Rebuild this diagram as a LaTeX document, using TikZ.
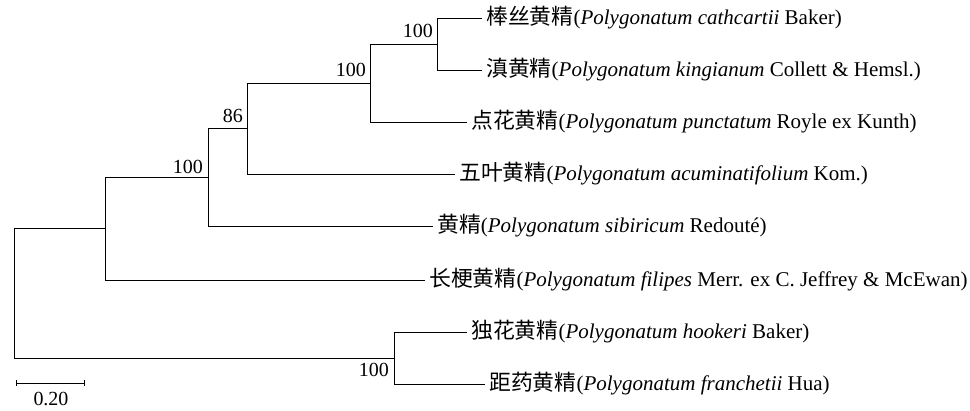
\documentclass[tikz,border=0pt]{standalone}
\usepackage{fontspec}
\setmainfont{Liberation Serif}
\newfontfamily\cjk[Scale=1.04]{Noto Sans CJK SC}
\begin{document}
\begin{tikzpicture}[x=1pt,y=-1pt,
  branch/.style={line width=0.9pt, black},
  leaf/.style={anchor=west, inner xsep=4pt, inner ysep=0pt, font=\fontsize{21}{25}\selectfont},
  boot/.style={inner sep=0pt, font=\fontsize{20}{24}\selectfont},
  bar/.style={line width=0.9pt, black}]
\useasboundingbox (0,0) rectangle (970,411);
% internal nodes
\coordinate (root) at (14,293.3);
\coordinate (A) at (105,228.6);
\coordinate (B) at (208,177.3);
\coordinate (C) at (247,128.5);
\coordinate (D) at (370,83);
\coordinate (E) at (437,44);
\coordinate (F) at (394,358);
% leaves
\node[leaf] (l1) at (482,18) {{\cjk 棒丝黄精}(\textit{Polygonatum cathcartii} Baker)};
\node[leaf] (l2) at (482,70) {{\cjk 滇黄精}(\textit{Polygonatum kingianum} Collett \& Hemsl.)};
\node[leaf] (l3) at (467,122) {{\cjk 点花黄精}(\textit{Polygonatum punctatum} Royle ex Kunth)};
\node[leaf] (l4) at (455,174) {{\cjk 五叶黄精}(\textit{Polygonatum acuminatifolium} Kom.)};
\node[leaf] (l5) at (433,226) {{\cjk 黄精}(\textit{Polygonatum sibiricum} Redouté)};
\node[leaf] (l6) at (425,280) {{\cjk 长梗黄精}(\textit{Polygonatum filipes} Merr. ex C. Jeffrey \& McEwan)};
\node[leaf] (l7) at (467,332) {{\cjk 独花黄精}(\textit{Polygonatum hookeri} Baker)};
\node[leaf] (l8) at (485,384) {{\cjk 距药黄精}(\textit{Polygonatum franchetii} Hua)};
% branches
\draw[branch] (E) |- (l1.west);
\draw[branch] (E) |- (l2.west);
\draw[branch] (D) |- (E);
\draw[branch] (D) |- (l3.west);
\draw[branch] (C) |- (D);
\draw[branch] (C) |- (l4.west);
\draw[branch] (B) |- (C);
\draw[branch] (B) |- (l5.west);
\draw[branch] (A) |- (B);
\draw[branch] (A) |- (l6.west);
\draw[branch] (F) |- (l7.west);
\draw[branch] (F) |- (l8.west);
\draw[branch] (root) |- (A);
\draw[branch] (root) |- (F);
% bootstrap values
\node[boot, anchor=base east] (bE) at ([xshift=-4pt,yshift=6pt]E) {100};
\node[boot, anchor=base east] (bD) at ([xshift=-4pt,yshift=6pt]D) {100};
\node[boot, anchor=base east] (bC) at ([xshift=-4pt,yshift=6pt]C) {86};
\node[boot, anchor=base east] (bB) at ([xshift=-5pt,yshift=4pt]B) {100};
\node[boot, anchor=north east] (bF) at ([xshift=-5pt,yshift=-5pt]F) {100};
% scale bar
\coordinate (s1) at (16,383);
\coordinate (s2) at (84,383);
\draw[bar] (s1) -- (s2);
\draw[bar] ([yshift=-3pt]s1) -- ([yshift=3pt]s1);
\draw[bar] ([yshift=-3pt]s2) -- ([yshift=3pt]s2);
\node[boot, anchor=north] (sl) at (51,392) {0.20};
\end{tikzpicture}
\end{document}
